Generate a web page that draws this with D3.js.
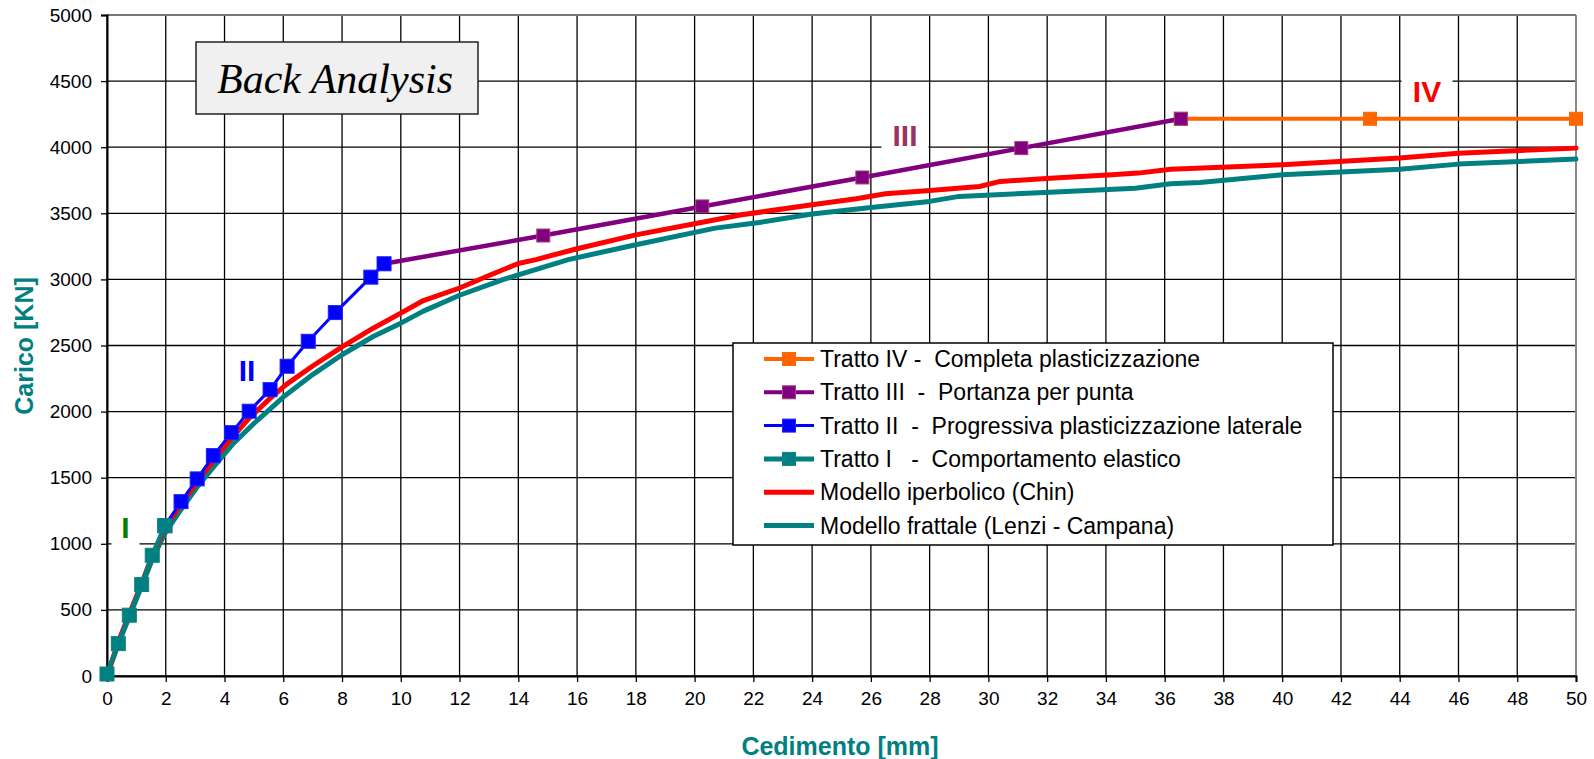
<!DOCTYPE html>
<html>
<head>
<meta charset="utf-8">
<script src="https://cdn.jsdelivr.net/npm/d3@7"></script>
<style>
  html, body { margin: 0; padding: 0; background: #fff; }
  svg { display: block; }
  text { font-family: "Liberation Sans", Arial, sans-serif; }
</style>
</head>
<body>
<svg id="chart" width="1594" height="759"></svg>
<script>
// Load test: settlement (mm) vs load (kN), measured stretches and fitted models
const xTicks = [0,2,4,6,8,10,12,14,16,18,20,22,24,26,28,30,32,34,36,38,40,42,44,46,48,50];
const yTicks = [0,500,1000,1500,2000,2500,3000,3500,4000,4500,5000];

// Tratto I - elastic behaviour
const trattoI = [[0,15],[0.385,245],[0.76,460],[1.18,692],[1.54,913],[1.97,1137]];
// Tratto II - progressive lateral yielding
const trattoII = [[1.97,1137],[2.52,1319],[3.07,1491],[3.62,1667],[4.24,1841],[4.84,2003],
  [5.55,2166],[6.13,2343],[6.85,2532],[7.77,2749],[8.98,3017],[9.43,3118]];
// Tratto III - tip bearing
const trattoIII = [[9.43,3118],[14.85,3332],[20.26,3552],[25.71,3771],[31.12,3993],[36.55,4215]];
// Tratto IV - full yielding
const trattoIV = [[36.55,4215],[42.99,4215],[50,4215]];

// Hyperbolic model (Chin)
const chinModel = [[0,0],[0.38,255],[0.76,470],[1.18,700],[1.54,910],[1.97,1120],[2.52,1300],
  [3.07,1470],[3.62,1630],[4.24,1800],[4.84,1950],[5.55,2100],[6.13,2210],[7.0,2345],[8.0,2490],
  [9.06,2631],[10.0,2745],[10.77,2840],[12.0,2935],[13.0,3030],[14.0,3120],[14.6,3150],[16.0,3232],
  [18.0,3337],[20.0,3421],[21.6,3489],[24.0,3564],[25.5,3610],[26.5,3648],[28.0,3672],[29.7,3703],
  [30.4,3741],[32.1,3766],[34.2,3791],[35.1,3804],[36.2,3834],[40.0,3867],[44.0,3918],[46.0,3955],[50,3993]];
// Fractal model (Lenzi - Campana)
const fractalModel = [[0,0],[0.38,240],[0.76,450],[1.18,680],[1.54,880],[1.97,1080],[2.52,1260],
  [3.07,1430],[3.62,1580],[4.3,1760],[5.0,1910],[5.5,2010],[6.0,2110],[7.0,2280],[8.0,2430],
  [9.06,2568],[10.0,2669],[10.77,2760],[12.0,2880],[13.5,3000],[14.0,3035],[15.7,3150],[18.0,3262],
  [20.7,3388],[22.2,3431],[24.0,3494],[26.0,3544],[28.0,3590],[29.0,3628],[32.1,3660],[35.0,3690],
  [36.2,3723],[37.2,3733],[40.0,3791],[44.0,3834],[46.0,3872],[50,3910]];

const legendLabels = [
  "Tratto IV -  Completa plasticizzazione",
  "Tratto III  -  Portanza per punta",
  "Tratto II  -  Progressiva plasticizzazione laterale",
  "Tratto I   -  Comportamento elastico",
  "Modello iperbolico (Chin)",
  "Modello frattale (Lenzi - Campana)"
];

const svg = d3.select("#chart");
const plotL = 107, plotR = 1576, plotT = 15, plotB = 676;
const x = d3.scaleLinear().domain([0, 50]).range([plotL, plotR]);
const y = d3.scaleLinear().domain([0, 5000]).range([plotB, plotT]);

// grid
const grid = svg.append("g");
grid.selectAll(".vg").data(xTicks).join("line")
  .attr("x1", d => x(d)).attr("x2", d => x(d)).attr("y1", plotT).attr("y2", plotB)
  .attr("stroke", "#000").attr("stroke-width", 1.3);
grid.selectAll(".hg").data(yTicks).join("line")
  .attr("x1", plotL).attr("x2", plotR).attr("y1", d => y(d)).attr("y2", d => y(d))
  .attr("stroke", "#000").attr("stroke-width", 1.3);
// frame top / right
svg.append("line").attr("x1", plotL).attr("x2", plotR).attr("y1", plotT).attr("y2", plotT)
  .attr("stroke", "#777").attr("stroke-width", 2);
svg.append("line").attr("x1", plotR).attr("x2", plotR).attr("y1", plotT).attr("y2", plotB)
  .attr("stroke", "#888").attr("stroke-width", 2);

// axes
const xAxis = d3.axisBottom(x).tickValues(xTicks).tickSize(6).tickPadding(10).tickFormat(d3.format("d"));
const yAxis = d3.axisLeft(y).tickValues(yTicks).tickSize(6).tickPadding(9).tickFormat(d3.format("d"));
const gx = svg.append("g").attr("transform", `translate(0,${plotB})`).call(xAxis);
const gy = svg.append("g").attr("transform", `translate(${plotL},0)`).call(yAxis);
[gx, gy].forEach(g => {
  g.select(".domain").attr("stroke", "#000").attr("stroke-width", 2);
  g.selectAll(".tick line").attr("stroke", "#000").attr("stroke-width", 1.3);
  g.selectAll(".tick text").attr("fill", "#000").style("font-size", "19px")
    .style("font-family", "'Liberation Sans', Arial, sans-serif");
});

// axis titles
svg.append("text").attr("x", 840).attr("y", 755).attr("text-anchor", "middle")
  .attr("fill", "#008080").style("font-weight", "bold").style("font-size", "25px")
  .text("Cedimento [mm]");
svg.append("text").attr("transform", "translate(33,346) rotate(-90)").attr("text-anchor", "middle")
  .attr("fill", "#008080").style("font-weight", "bold").style("font-size", "25px")
  .text("Carico [KN]");

// title box
svg.append("rect").attr("x", 196).attr("y", 42).attr("width", 282).attr("height", 72)
  .attr("fill", "#f0f0f0").attr("stroke", "#222").attr("stroke-width", 1.5);
svg.append("text").attr("x", 335).attr("y", 93).attr("text-anchor", "middle")
  .style("font-family", "'Liberation Serif', 'Times New Roman', serif")
  .style("font-style", "italic").style("font-size", "42px").attr("fill", "#000")
  .text("Back Analysis");

// stretch labels with white boxes
const stretchLabels = [
  { t: "I", cx: 125.5, cy: 527, w: 28, h: 36, c: "#008000" },
  { t: "II", cx: 247, cy: 370, w: 36, h: 46, c: "#0000ff" },
  { t: "III", cx: 905, cy: 135, w: 47, h: 38, c: "#993366" },
  { t: "IV", cx: 1427, cy: 91, w: 51, h: 44, c: "#ff0000" }
];
stretchLabels.forEach(l => {
  svg.append("rect").attr("x", l.cx - l.w / 2).attr("y", l.cy - l.h / 2)
    .attr("width", l.w).attr("height", l.h).attr("fill", "#fff");
  svg.append("text").attr("x", l.cx).attr("y", l.cy + 11).attr("text-anchor", "middle")
    .attr("fill", l.c).style("font-weight", "bold").style("font-size", "30px").text(l.t);
});

const line = d3.line().x(d => x(d[0])).y(d => y(d[1]));
function drawLine(data, color, width) {
  svg.append("path").datum(data).attr("d", line).attr("fill", "none")
    .attr("stroke", color).attr("stroke-width", width)
    .attr("stroke-linejoin", "round").attr("stroke-linecap", "round");
}
function drawMarkers(data, fill, stroke, size) {
  svg.append("g").selectAll("rect").data(data).join("rect")
    .attr("x", d => x(d[0]) - size / 2).attr("y", d => y(d[1]) - size / 2)
    .attr("width", size).attr("height", size)
    .attr("fill", fill).attr("stroke", stroke).attr("stroke-width", 1);
}

// model curves
drawLine(fractalModel, "#008080", 5);
drawLine(chinModel, "#ff0000", 5);
// measured stretches
drawLine(trattoIV, "#ff6600", 4);
drawMarkers(trattoIV, "#ff6600", "#ff6600", 13);
drawLine(trattoIII, "#800080", 4.5);
drawMarkers(trattoIII, "#800080", "#a04070", 13);
drawLine(trattoII, "#0000ff", 3);
drawMarkers(trattoII, "#0000ff", "#2020ff", 14);
drawLine(trattoI, "#008080", 4.5);
drawMarkers(trattoI, "#008080", "#108080", 14);

// legend
const lg = svg.append("g");
lg.append("rect").attr("x", 733).attr("y", 343).attr("width", 600).attr("height", 202)
  .attr("fill", "#fff").attr("stroke", "#000").attr("stroke-width", 1.5);
const legendStyles = [
  { c: "#ff6600", w: 4, m: true, s: "#ff6600" },
  { c: "#800080", w: 4, m: true, s: "#a04070" },
  { c: "#0000ff", w: 3, m: true, s: "#2020ff" },
  { c: "#008080", w: 5, m: true, s: "#108080" },
  { c: "#ff0000", w: 5, m: false },
  { c: "#008080", w: 5, m: false }
];
legendLabels.forEach((lab, i) => {
  const yy = 359 + i * 33.3;
  const st = legendStyles[i];
  lg.append("line").attr("x1", 764).attr("x2", 814).attr("y1", yy).attr("y2", yy)
    .attr("stroke", st.c).attr("stroke-width", st.w);
  if (st.m) {
    lg.append("rect").attr("x", 789 - 6.5).attr("y", yy - 6.5).attr("width", 13).attr("height", 13)
      .attr("fill", st.c).attr("stroke", st.s).attr("stroke-width", 1);
  }
  lg.append("text").attr("x", 820).attr("y", yy + 8).attr("fill", "#000")
    .attr("xml:space", "preserve").style("white-space", "pre")
    .style("font-size", "23px").text(lab);
});
</script>
</body>
</html>
